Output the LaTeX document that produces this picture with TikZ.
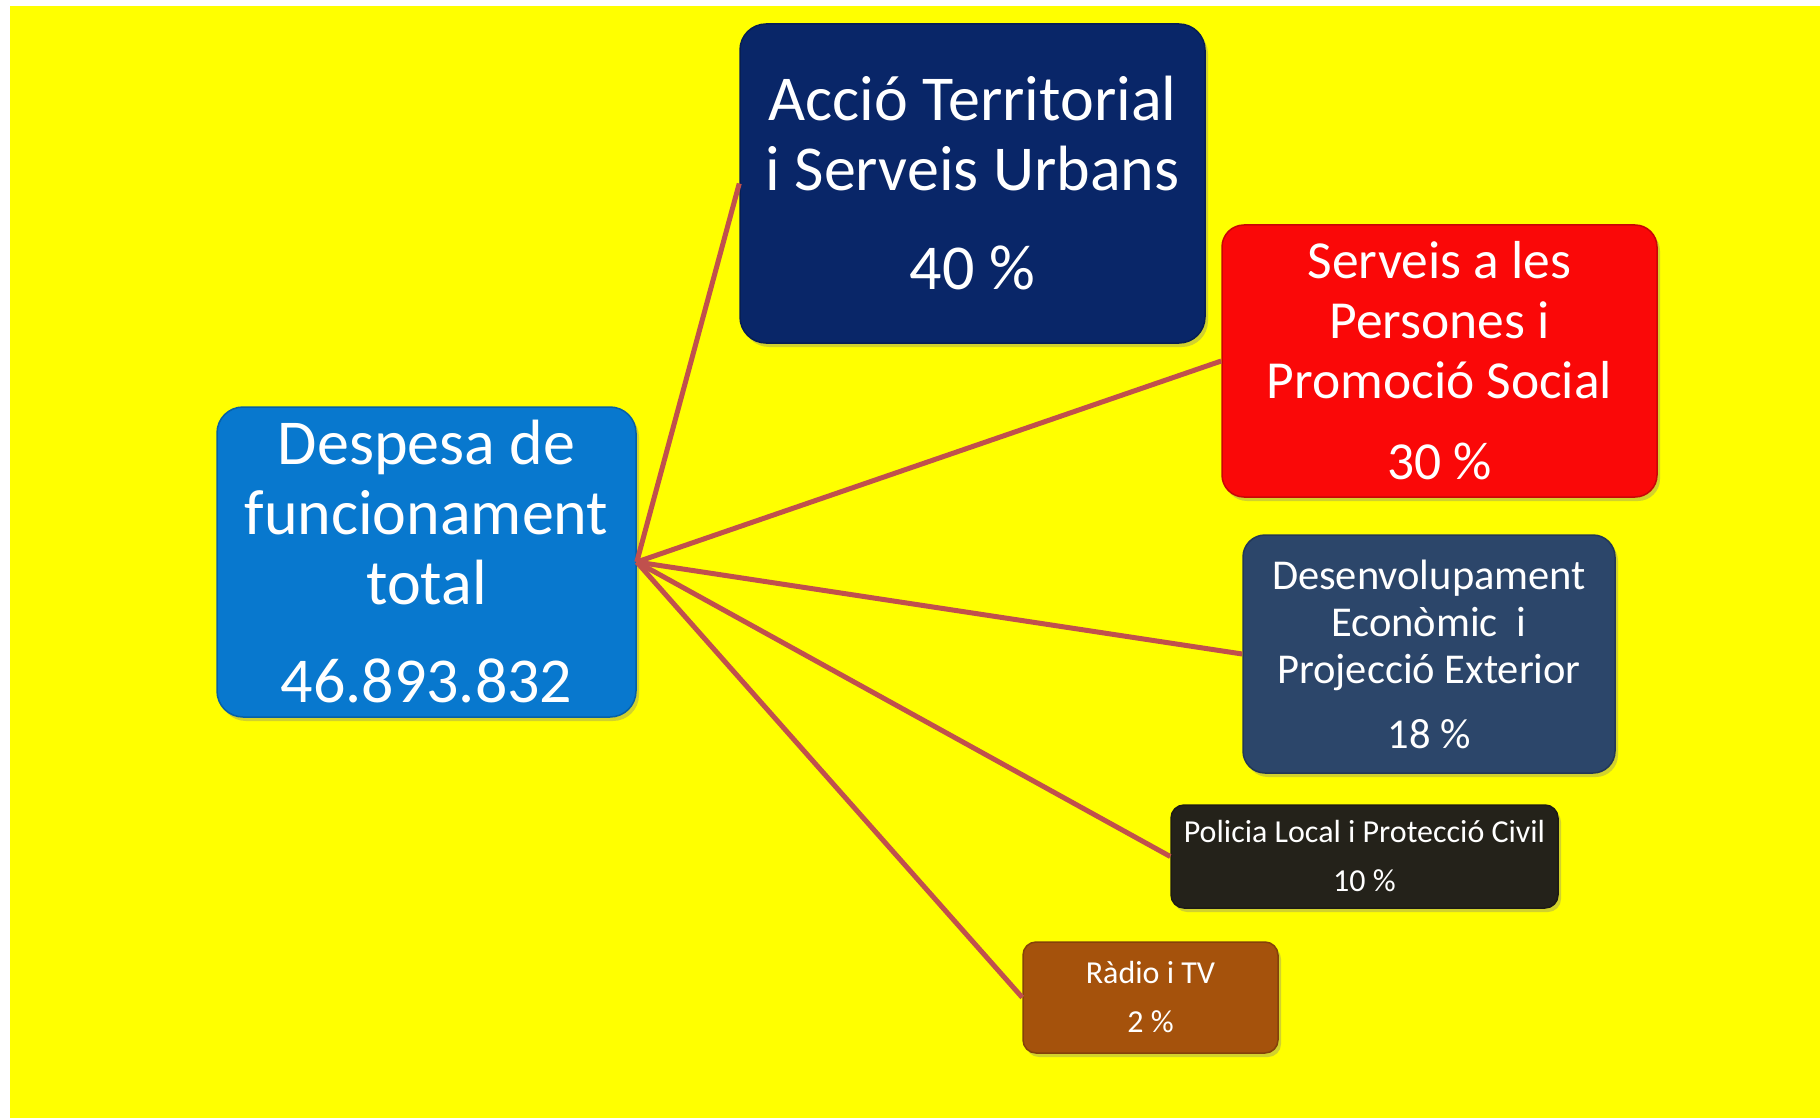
\documentclass[tikz,border=0pt]{standalone}
\usepackage{fontspec}
\setmainfont{Carlito}
\usetikzlibrary{shadows}

\definecolor{bgyellow}{RGB}{255,255,0}
\definecolor{totblue}{RGB}{8,120,206}
\definecolor{accnavy}{RGB}{9,38,104}
\definecolor{serred}{RGB}{250,8,8}
\definecolor{desslate}{RGB}{44,70,106}
\definecolor{polblack}{RGB}{36,34,26}
\definecolor{radbrown}{RGB}{165,82,12}
\definecolor{linkred}{RGB}{192,80,77}

\begin{document}
\begin{tikzpicture}[x=1pt, y=-1pt,
  box/.style={rounded corners=26pt, text=white, align=center, inner sep=0pt,
    line width=1.5pt, drop shadow={opacity=0.35, shadow xshift=3pt, shadow yshift=-4pt}},
  smallbox/.style={box, rounded corners=13pt, font=\fontsize{32}{49}\selectfont},
  link/.style={draw=linkred, line width=5pt}]
% Page with the yellow background
\useasboundingbox (0,0) rectangle (1820,1118);
\fill[white] (0,0) rectangle (1820,1118);
\fill[bgyellow] (10,6) rectangle (1820,1118);
% Total on the left
\node[box, fill=totblue, draw=totblue!80!black, minimum width=419pt, minimum height=310pt,
  font=\fontsize{64}{70}\selectfont] (tot) at (426.5,562)
  {Despesa de\\funcionament\\total\\[28pt]46.893.832};
% Biggest part at the top
\node[box, fill=accnavy, draw=accnavy!80!black, minimum width=465pt, minimum height=319pt,
  font=\fontsize{64}{70}\selectfont] (acc) at (972.5,183.5)
  {Acció Territorial\\i Serveis Urbans\\[29pt]40 \%};
% Red part on the right
\node[box, rounded corners=22pt, fill=serred, draw=serred!80!black, minimum width=435pt,
  minimum height=272pt, font=\fontsize{53.5}{60}\selectfont] (ser) at (1439.5,361)
  {Serveis a les\\Persones i\\Promoció Social\\[21pt]30 \%};
% Slate part below it
\node[box, rounded corners=22pt, fill=desslate, draw=desslate!80!black, minimum width=372pt,
  minimum height=238pt, font=\fontsize{42.5}{47}\selectfont] (des) at (1429,654)
  {Desenvolupament\\Econòmic\ \ i\\Projecció Exterior\\[18pt]18 \%};
% Two small parts at the bottom
\node[smallbox, fill=polblack, draw=polblack!80!black, minimum width=387pt,
  minimum height=103pt] (pol) at (1364.5,856.5)
  {Policia Local i Protecció Civil\\10 \%};
\node[smallbox, fill=radbrown, draw=radbrown!80!black, minimum width=255pt,
  minimum height=111pt] (rad) at (1150.5,997.5)
  {Ràdio i TV\\2 \%};
% Lines from the total to every part
\foreach \part in {acc,ser,des,pol,rad}
  \draw[link] (tot.east) -- (\part.west);
\end{tikzpicture}
\end{document}
